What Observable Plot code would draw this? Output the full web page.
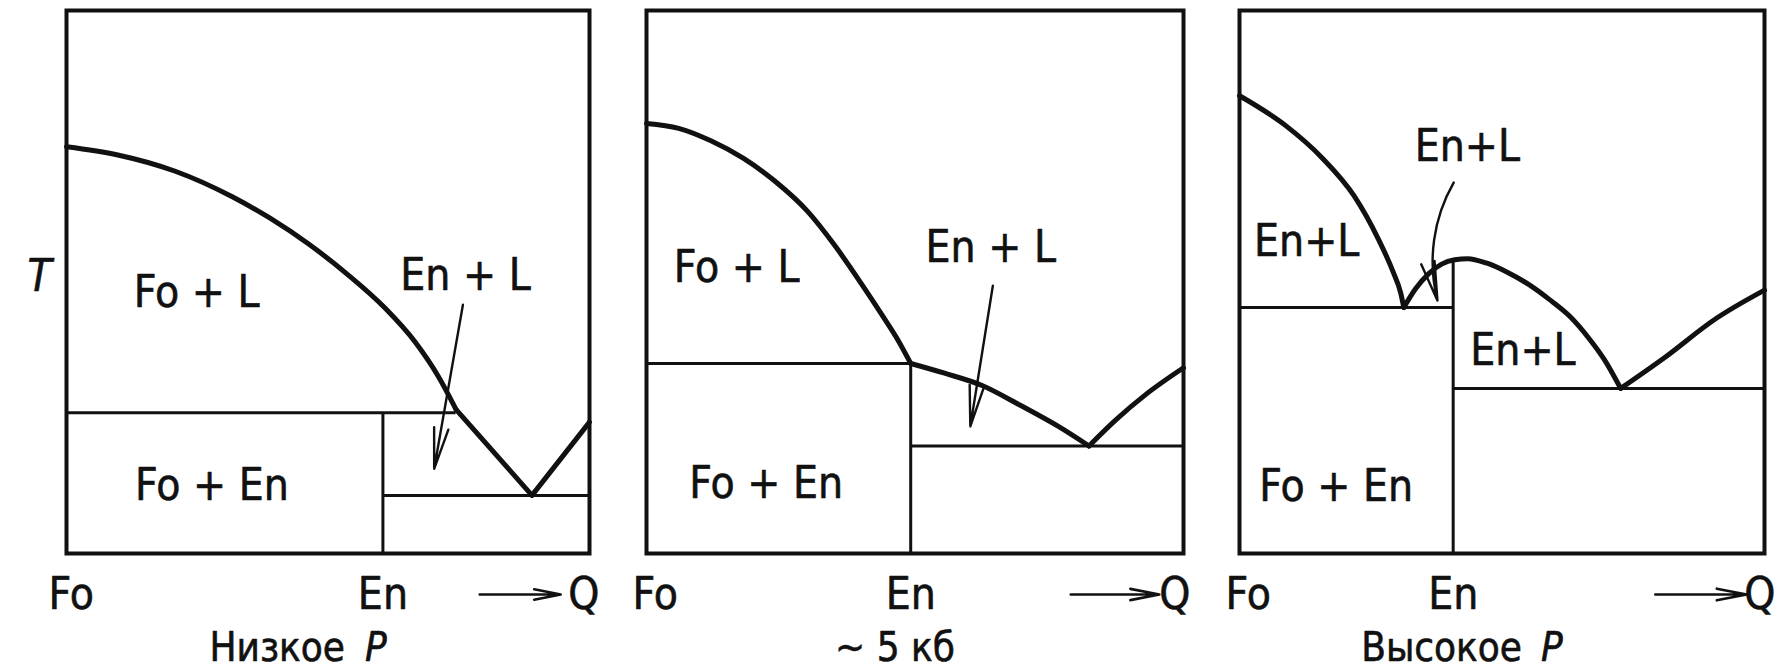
<!DOCTYPE html>
<html>
<head>
<meta charset="utf-8">
<script src="https://cdn.jsdelivr.net/npm/d3@7"></script>
<script src="https://cdn.jsdelivr.net/npm/@observablehq/plot@0.6"></script>
<style>
  html, body { margin: 0; padding: 0; background: #fff; }
  #chart { position: relative; width: 1785px; height: 670px; overflow: hidden; background: #fff; }
  #chart > .panel { position: absolute; top: 0; }
  #chart svg { max-width: none !important; }
</style>
</head>
<body>
<div id="chart"></div>
<script>
// Fo–SiO2 (Fo–En–Q) phase diagrams at three pressures.
// Composition (x) and temperature (y) are both given as fractions of the diagram box.

// ---- Low pressure -------------------------------------------------------
const lowEn = 0.605;
const lowLiquidusFo = [[0, 0.749], [0.098, 0.734], [0.208, 0.704], [0.317, 0.657], [0.390, 0.617],
  [0.463, 0.570], [0.536, 0.515], [0.609, 0.452], [0.667, 0.389], [0.711, 0.326], [0.745, 0.265]];
const lowLiquidusEn = [[0.745, 0.265], [0.890, 0.107]];
const lowLiquidusQ = [[0.890, 0.107], [1, 0.242]];
const lowIsotherms = [{y: 0.259, x1: 0, x2: 0.745}, {y: 0.107, x1: lowEn, x2: 1}];
const lowEnLine = [{x: lowEn, y1: 0, y2: 0.259}];
const lowLabels = [
  {x: 0.249, y: 0.480, text: "Fo + L"},
  {x: 0.763, y: 0.511, text: "En + L"},
  {x: 0.278, y: 0.125, text: "Fo + En"}
];
const lowPointer = [{x1: 0.758, y1: 0.458, x2: 0.703, y2: 0.156}];
const lowQArrow = [{x1: 0.790, x2: 0.945}];

// ---- ~5 kbar --------------------------------------------------------------
const midEn = 0.492;
const midLiquidusFo = [[0, 0.792], [0.06, 0.783], [0.12, 0.760], [0.18, 0.728], [0.24, 0.685], [0.30, 0.630],
  [0.35, 0.568], [0.40, 0.497], [0.44, 0.437], [0.47, 0.390], [0.492, 0.350]];
const midLiquidusEn = [[0.492, 0.350], [0.555, 0.332], [0.626, 0.309], [0.696, 0.273], [0.767, 0.234], [0.824, 0.198]];
const midLiquidusQ = [[0.824, 0.198], [0.874, 0.246], [0.930, 0.293], [1, 0.342]];
const midIsotherms = [{y: 0.350, x1: 0, x2: midEn}, {y: 0.198, x1: midEn, x2: 1}];
const midEnLine = [{x: midEn, y1: 0, y2: 0.350}];
const midLabels = [
  {x: 0.168, y: 0.526, text: "Fo + L"},
  {x: 0.641, y: 0.562, text: "En + L"},
  {x: 0.223, y: 0.128, text: "Fo + En"}
];
const midPointer = [{x1: 0.645, y1: 0.493, x2: 0.603, y2: 0.234}];
const midQArrow = [{x1: 0.790, x2: 0.955}];

// ---- High pressure --------------------------------------------------------
const highEn = 0.407;
const highLiquidusFo = [[0, 0.843], [0.088, 0.788], [0.157, 0.729], [0.218, 0.659], [0.264, 0.580],
  [0.292, 0.520], [0.307, 0.480], [0.313, 0.453]];
const highLiquidusEn = [[0.313, 0.453], [0.335, 0.487], [0.360, 0.515], [0.385, 0.533], [0.410, 0.541],
  [0.435, 0.543], [0.470, 0.535], [0.510, 0.518], [0.550, 0.496], [0.590, 0.468], [0.630, 0.436],
  [0.665, 0.397], [0.695, 0.357], [0.726, 0.304]];
const highLiquidusQ = [[0.726, 0.304], [0.810, 0.361], [0.905, 0.431], [1, 0.485]];
const highIsotherms = [{y: 0.453, x1: 0, x2: highEn}, {y: 0.304, x1: highEn, x2: 1}];
const highEnLine = [{x: highEn, y1: 0, y2: 0.541}];
const highLabels = [
  {x: 0.434, y: 0.749, text: "En+L"},
  {x: 0.128, y: 0.573, text: "En+L"},
  {x: 0.540, y: 0.373, text: "En+L"},
  {x: 0.184, y: 0.122, text: "Fo + En"}
];
const highPointer = [{x1: 0.408, y1: 0.683, x2: 0.377, y2: 0.466}];
const highQArrow = [{x1: 0.792, x2: 0.966}];

const tickNames = ["Fo", "En", "Q"];
const captions = [["Низкое", "P"], ["~ 5 кб", ""], ["Высокое", "P"]];

// ---- drawing ----------------------------------------------------------------
const INK = "#111";
const FONT = '"Liberation Sans Narrow", "DejaVu Sans Condensed", "Liberation Sans", sans-serif';
const xy = {x: d => d[0], y: d => d[1]};
const ink = {fill: INK, stroke: INK, strokeWidth: 0.6};

const panels = [
  {
    en: lowEn, isotherms: lowIsotherms, enLine: lowEnLine, labels: lowLabels,
    pointer: lowPointer, bend: 0, qArrow: lowQArrow, caption: captions[0], showT: true,
    liquidus: [
      {points: lowLiquidusFo, curve: "monotone-x"},
      {points: lowLiquidusEn, curve: "linear"},
      {points: lowLiquidusQ, curve: "linear"}
    ],
    box: {left: 0, width: 620, marginLeft: 66, marginRight: 31}, capShift: [17, 37], fo: -18, q: 10
  },
  {
    en: midEn, isotherms: midIsotherms, enLine: midEnLine, labels: midLabels,
    pointer: midPointer, bend: 0, qArrow: midQArrow, caption: captions[1], showT: false,
    liquidus: [
      {points: midLiquidusFo, curve: "monotone-x"},
      {points: midLiquidusEn, curve: "monotone-x"},
      {points: midLiquidusQ, curve: "monotone-x"}
    ],
    box: {left: 600, width: 600, marginLeft: 46, marginRight: 17}, capShift: [-20, 0], fo: -14, q: 7
  },
  {
    en: highEn, isotherms: highIsotherms, enLine: highEnLine, labels: highLabels,
    pointer: highPointer, bend: -22, qArrow: highQArrow, caption: captions[2], showT: false,
    liquidus: [
      {points: highLiquidusFo, curve: "monotone-x"},
      {points: highLiquidusEn, curve: "monotone-x"},
      {points: highLiquidusQ, curve: "monotone-x"}
    ],
    box: {left: 1195, width: 590, marginLeft: 44, marginRight: 21}, capShift: [20, 39], fo: -14, q: 11
  }
];

const chart = document.getElementById("chart");

for (const p of panels) {
  const ticks = [
    {x: 0, text: tickNames[0], anchor: "start", dx: p.fo},
    {x: p.en, text: tickNames[1], anchor: "middle", dx: 0},
    {x: 1, text: tickNames[2], anchor: "end", dx: p.q}
  ];
  const marks = [
    Plot.ruleY(p.isotherms, {y: "y", x1: "x1", x2: "x2", stroke: INK, strokeWidth: 3}),
    Plot.ruleX(p.enLine, {x: "x", y1: "y1", y2: "y2", stroke: INK, strokeWidth: 3}),
    ...p.liquidus.map(seg => Plot.line(seg.points, {...xy, curve: seg.curve, stroke: INK, strokeWidth: 5, strokeLinejoin: "round"})),
    Plot.frame({stroke: INK, strokeWidth: 4}),
    Plot.arrow(p.pointer, {x1: "x1", y1: "y1", x2: "x2", y2: "y2", bend: p.bend, stroke: INK, strokeWidth: 2.4, headLength: 26, headAngle: 20}),
    Plot.text(p.labels, {x: "x", y: "y", text: "text", fontSize: 44, ...ink}),
    // composition axis: Fo, En and the direction towards Q
    ...ticks.map(t => Plot.text([t], {x: "x", frameAnchor: "bottom", lineAnchor: "middle", text: "text", textAnchor: t.anchor, dx: t.dx, dy: 41, fontSize: 44, ...ink})),
    Plot.arrow(p.qArrow, {x1: "x1", x2: "x2", y1: () => 0, y2: () => 0, dy: 41, stroke: INK, strokeWidth: 2.6, headLength: 18, headAngle: 22}),
    // pressure caption under each diagram
    Plot.text([p.caption[0]], {frameAnchor: "bottom", lineAnchor: "middle", text: d => d, textAnchor: p.caption[1] ? "end" : "middle", dx: p.capShift[0], dy: 95, fontSize: 40, ...ink}),
    Plot.text([p.caption[1]], {frameAnchor: "bottom", lineAnchor: "middle", text: d => d, textAnchor: "start", fontStyle: "italic", dx: p.capShift[1], dy: 95, fontSize: 40, ...ink})
  ];
  if (p.showT) {
    marks.push(Plot.text([{y: 0.51}], {y: "y", frameAnchor: "left", lineAnchor: "middle", text: () => "T", fontStyle: "italic", dx: -39, fontSize: 44, ...ink}));
  }
  const svg = Plot.plot({
    width: p.box.width,
    height: 670,
    marginTop: 10,
    marginBottom: 117,
    marginLeft: p.box.marginLeft,
    marginRight: p.box.marginRight,
    x: {domain: [0, 1], axis: null},
    y: {domain: [0, 1], axis: null},
    style: {background: "transparent", fontFamily: FONT, overflow: "visible", color: INK},
    marks
  });
  const holder = document.createElement("div");
  holder.className = "panel";
  holder.style.left = p.box.left + "px";
  holder.style.width = p.box.width + "px";
  holder.appendChild(svg);
  chart.appendChild(holder);
}
</script>
</body>
</html>
